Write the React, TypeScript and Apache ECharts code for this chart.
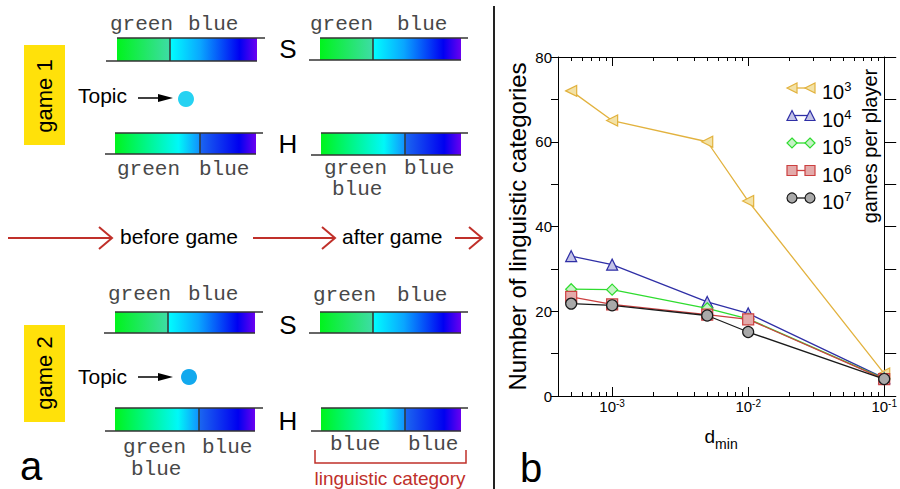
import React, { useEffect, useRef } from "react";
import * as echarts from "echarts";

// ---------------- data (panel b) ----------------
const dMinValues = [5e-4, 1e-3, 5e-3, 1e-2, 1e-1];
const gamesPerPlayerExponents = [3, 4, 5, 6, 7];
const categories1e3 = [72, 65, 60, 46, 5.3];
const categories1e4 = [33, 31, 22.2, 19.5, 4.2];
const categories1e5 = [25.2, 25.1, 20.7, 18.2, 4.1];
const categories1e6 = [23.4, 21.6, 19.2, 18.1, 4];
const categories1e7 = [21.8, 21.4, 19, 15.1, 4];
const allCategories = [categories1e3, categories1e4, categories1e5, categories1e6, categories1e7];
const xMajorTickValues = [1e-3, 1e-2, 1e-1];
const xMinorTickValues = [
  5e-4, 6e-4, 7e-4, 8e-4, 9e-4,
  2e-3, 3e-3, 4e-3, 5e-3, 6e-3, 7e-3, 8e-3, 9e-3,
  2e-2, 3e-2, 4e-2, 5e-2, 6e-2, 7e-2, 8e-2, 9e-2,
];
const yLabelValues = [0, 20, 40, 60, 80];

// ---------------- styles ----------------
const SANS = '"Liberation Sans", Arial, Helvetica, sans-serif';
const MONO = '"Liberation Mono", "Courier New", monospace';
const RED = "#c0302a";
const X_MIN = 4e-4;
const X_MAX = 0.1;

const seriesStyles = [
  { symbol: "triangle", rotate: 90, kind: "triLeft", line: "#e2b23e", fill: "#f3e2a6" },
  { symbol: "triangle", rotate: 0, kind: "triUp", line: "#2f2fa6", fill: "#c3c3e6" },
  { symbol: "diamond", rotate: 0, kind: "diamond", line: "#2fdc2f", fill: "#c6f2c6" },
  { symbol: "rect", rotate: 0, kind: "rect", line: "#cc4040", fill: "#e3aaaa" },
  { symbol: "circle", rotate: 0, kind: "circle", line: "#1a1a1a", fill: "#a9a9a9" },
];

// ---------------- helpers for the schematic (panel a) ----------------
const grad = (stops: [number, string][]) =>
  new echarts.graphic.LinearGradient(0, 0, 1, 0, stops.map(([offset, color]) => ({ offset, color })));

const S_LEFT: [number, string][] = [[0, "#00f41c"], [1, "#3edca6"]];
const S_RIGHT: [number, string][] = [[0, "#00ffff"], [0.35, "#0aa6ff"], [0.8, "#0000f2"], [1, "#6a00f0"]];
const H_FULL: [number, string][] = [[0, "#00f41c"], [0.45, "#00f8f8"], [0.6, "#1290ff"], [0.61, "#1a64f0"], [0.88, "#0000f0"], [1, "#6a00f0"]];

const line = (x1: number, y1: number, x2: number, y2: number, stroke = "#333", lineWidth = 1.5) => ({
  type: "line", silent: true, shape: { x1, y1, x2, y2 }, style: { stroke, lineWidth },
});
const rect = (x: number, y: number, width: number, height: number, fill: any) => ({
  type: "rect", silent: true, shape: { x, y, width, height }, style: { fill },
});
const text = (t: string, x: number, y: number, size: number, family: string, fill = "#000", align = "left", extra: any = {}) => ({
  type: "text", silent: true, x, y, ...extra,
  style: { text: t, fontSize: size, fontFamily: family, fill, align, textAlign: align, verticalAlign: "middle", textVerticalAlign: "middle" },
});

type Bar = { x0: number; x1: number; y0: number; y1: number; div: number; topEnd: number; botStart: number; split: boolean };
const barEls = (b: Bar) => {
  const els: any[] = [];
  const h = b.y1 - b.y0;
  if (b.split) {
    els.push(rect(b.x0, b.y0, b.div - b.x0, h, grad(S_LEFT)));
    els.push(rect(b.div, b.y0, b.x1 - b.div, h, grad(S_RIGHT)));
  } else {
    els.push(rect(b.x0, b.y0, b.x1 - b.x0, h, grad(H_FULL)));
  }
  els.push(line(b.x0, b.y0, b.topEnd, b.y0));
  els.push(line(b.botStart, b.y1, b.x1, b.y1));
  els.push(line(b.div, b.y0, b.div, b.y1));
  return els;
};

const bars: Bar[] = [
  { x0: 117, x1: 257, y0: 38, y1: 61, div: 170, topEnd: 265, botStart: 106, split: true },
  { x0: 320, x1: 461, y0: 38, y1: 60, div: 373, topEnd: 468, botStart: 309, split: true },
  { x0: 115, x1: 256, y0: 133, y1: 154, div: 200, topEnd: 263, botStart: 105, split: false },
  { x0: 321, x1: 461, y0: 133, y1: 155, div: 405, topEnd: 468, botStart: 311, split: false },
  { x0: 115, x1: 255, y0: 312, y1: 333, div: 168, topEnd: 263, botStart: 104, split: true },
  { x0: 320, x1: 461, y0: 312, y1: 333, div: 373, topEnd: 468, botStart: 309, split: true },
  { x0: 115, x1: 255, y0: 408, y1: 431, div: 199, topEnd: 263, botStart: 105, split: false },
  { x0: 321, x1: 461, y0: 408, y1: 431, div: 405, topEnd: 468, botStart: 311, split: false },
];

const monoWords: [string, number, number][] = [
  ["green", 110, 24.5], ["blue", 188, 24.5], ["green", 310, 24.5], ["blue", 397, 24.5],
  ["green", 117, 169.5], ["blue", 199, 169.5], ["green", 324, 168], ["blue", 404, 168], ["blue", 332, 189.5],
  ["green", 108, 294], ["blue", 188, 294], ["green", 313, 295], ["blue", 397, 295],
  ["green", 123, 447.5], ["blue", 202, 447.5], ["blue", 131, 469], ["blue", 330, 444], ["blue", 408, 444],
];

const games = [
  { label: "game 1", boxTop: 45, boxBottom: 145, textY: 96, sY: 48.6, hY: 143.6, topicY: 95, arrowY: 98, dotX: 186, dotY: 99, dot: "#26d2f2" },
  { label: "game 2", boxTop: 325, boxBottom: 422, textY: 373, sY: 325, hY: 420.5, topicY: 376, arrowY: 377, dotX: 189, dotY: 377, dot: "#12a9ee" },
];

const chevron = (tipX: number, y: number) => ({
  type: "polyline", silent: true,
  shape: { points: [[tipX - 13, y - 11], [tipX, y], [tipX - 13, y + 11]] },
  style: { stroke: RED, lineWidth: 2, fill: null },
});

const symbolEl = (kind: string, cx: number, cy: number, s: number, fill: string, stroke: string) => {
  const r = s / 2;
  const style = { fill, stroke, lineWidth: 1.2 };
  if (kind === "circle") return { type: "circle", silent: true, shape: { cx, cy, r }, style };
  if (kind === "rect") return { type: "rect", silent: true, shape: { x: cx - r, y: cy - r, width: s, height: s }, style };
  let points: number[][] = [];
  if (kind === "triLeft") points = [[cx - r, cy], [cx + r, cy - r], [cx + r, cy + r]];
  if (kind === "triUp") points = [[cx, cy - r], [cx + r, cy + r], [cx - r, cy + r]];
  if (kind === "diamond") points = [[cx, cy - r], [cx + r, cy], [cx, cy + r], [cx - r, cy]];
  return { type: "polygon", silent: true, shape: { points }, style };
};

function buildGraphics() {
  const els: any[] = [];
  // panel separator
  els.push(line(494, 6, 494, 489, "#222", 2));
  // bars
  bars.forEach((b) => els.push(...barEls(b)));
  // words
  monoWords.forEach(([t, x, y]) => els.push(text(t, x, y, 21, MONO, "#484848")));
  // games
  games.forEach((g) => {
    els.push(rect(24, g.boxTop, 41, g.boxBottom - g.boxTop, "#ffe10a"));
    els.push(text(g.label, 44, g.textY, 22, SANS, "#000", "center", { rotation: Math.PI / 2 }));
    els.push(text("S", 288, g.sY, 26, SANS, "#000", "center"));
    els.push(text("H", 288, g.hY, 26, SANS, "#000", "center"));
    els.push(text("Topic", 78, g.topicY, 21, SANS, "#000"));
    els.push(line(138, g.arrowY, 162, g.arrowY, "#000", 1.5));
    els.push({ type: "polygon", silent: true, shape: { points: [[158, g.arrowY - 4], [173, g.arrowY], [158, g.arrowY + 4]] }, style: { fill: "#000" } });
    els.push({ type: "circle", silent: true, shape: { cx: g.dotX, cy: g.dotY, r: 8 }, style: { fill: g.dot } });
  });
  // red timeline
  els.push(line(8, 238, 111, 238, RED, 2));
  els.push(chevron(112, 238));
  els.push(text("before game", 120, 236, 21, SANS, "#000"));
  els.push(line(253, 238, 334, 238, RED, 2));
  els.push(chevron(335, 238));
  els.push(text("after game", 342, 236, 21, SANS, "#000"));
  els.push(line(455, 238, 481, 238, RED, 2));
  els.push(chevron(482, 238));
  // linguistic category bracket
  els.push({ type: "polyline", silent: true, shape: { points: [[315, 450], [315, 463], [466, 463], [466, 450]] }, style: { stroke: RED, lineWidth: 1.5, fill: null } });
  els.push(text("linguistic category", 390, 478, 19, SANS, RED, "center"));
  // panel letters
  els.push(text("a", 20, 466, 40, SANS, "#000"));
  els.push(text("b", 520, 468, 40, SANS, "#000"));

  // legend of panel b
  const legendTop = 88;
  const legendStep = 27.5;
  gamesPerPlayerExponents.forEach((e, i) => {
    const st = seriesStyles[i];
    const y = legendTop + i * legendStep;
    els.push(line(792, y, 810, y, st.line, 1.3));
    els.push(symbolEl(st.kind, 792, y, 10, st.fill, st.line));
    els.push(symbolEl(st.kind, 810, y, 10, st.fill, st.line));
    els.push({
      type: "text", silent: true, x: 822, y: y + 3,
      style: {
        text: `{b|10}{s|${e}}`, fill: "#000", align: "left", textAlign: "left", verticalAlign: "middle", textVerticalAlign: "middle",
        rich: {
          b: { fontSize: 20, fontFamily: SANS, lineHeight: 22, verticalAlign: "bottom", fill: "#000", color: "#000" },
          s: { fontSize: 13, fontFamily: SANS, lineHeight: 4, verticalAlign: "top", fill: "#000", color: "#000" },
        },
      },
    });
  });
  els.push(text("games per player", 870, 146, 20, SANS, "#000", "center", { rotation: Math.PI / 2 }));
  return els;
}

function buildOption(): any {
  const xBase = {
    type: "log", logBase: 10, min: X_MIN, max: X_MAX, gridIndex: 0,
    splitLine: { show: false }, minorTick: { show: false }, minorSplitLine: { show: false },
  };
  const axisLineStyle = { show: true, lineStyle: { color: "#000", width: 1 } };
  const supRich = {
    b: { fontSize: 15, fontFamily: SANS, color: "#000", lineHeight: 16, verticalAlign: "bottom" },
    s: { fontSize: 10, fontFamily: SANS, color: "#000", lineHeight: 6, verticalAlign: "top" },
  };
  return {
    animation: false,
    backgroundColor: "#fff",
    textStyle: { fontFamily: SANS },
    grid: { left: 558, top: 57, right: 13, bottom: 93, containLabel: false },
    xAxis: [
      {
        ...xBase, position: "bottom",
        axisLine: axisLineStyle,
        axisTick: { show: true, inside: true, length: 9, customValues: xMajorTickValues, lineStyle: { color: "#000" } },
        axisLabel: {
          show: true, customValues: xMajorTickValues, margin: 2,
          formatter: (v: number) => `{b|10}{s|${Math.round(Math.log10(v))}}`,
          rich: supRich,
        },
        name: "{d|d}{m|min}", nameLocation: "middle", nameGap: 25,
        nameTextStyle: {
          rich: {
            d: { fontSize: 19, fontFamily: SANS, color: "#000", lineHeight: 30, verticalAlign: "middle" },
            m: { fontSize: 14, fontFamily: SANS, color: "#000", lineHeight: 10, verticalAlign: "bottom" },
          },
        },
      },
      {
        ...xBase, position: "bottom", axisLine: { show: false },
        axisTick: { show: true, inside: true, length: 4, customValues: xMinorTickValues, lineStyle: { color: "#000" } },
        axisLabel: { show: false },
      },
      {
        ...xBase, position: "top", axisLine: axisLineStyle,
        axisTick: { show: true, inside: true, length: 9, customValues: xMajorTickValues, lineStyle: { color: "#000" } },
        axisLabel: { show: false },
      },
      {
        ...xBase, position: "top", axisLine: { show: false },
        axisTick: { show: true, inside: true, length: 4, customValues: xMinorTickValues, lineStyle: { color: "#000" } },
        axisLabel: { show: false },
      },
    ],
    yAxis: [
      {
        type: "value", min: 0, max: 80, interval: 10, position: "left",
        axisLine: axisLineStyle,
        axisTick: { show: true, inside: false, length: 7, lineStyle: { color: "#000" } },
        axisLabel: {
          show: true, margin: 6, fontSize: 15, color: "#000", fontFamily: SANS,
          formatter: (v: number) => (yLabelValues.includes(v) ? String(v) : ""),
        },
        splitLine: { show: false },
        name: "Number of linguistic categories", nameLocation: "middle", nameGap: 29,
        nameTextStyle: { fontSize: 24, color: "#000", fontFamily: SANS },
      },
      {
        type: "value", min: 0, max: 80, interval: 10, position: "right",
        axisLine: axisLineStyle,
        axisTick: { show: true, inside: false, length: 12, lineStyle: { color: "#000" } },
        axisLabel: { show: false },
        splitLine: { show: false },
      },
    ],
    series: allCategories.map((vals, i) => {
      const st = seriesStyles[i];
      return {
        type: "line",
        name: `10^${gamesPerPlayerExponents[i]}`,
        xAxisIndex: 0, yAxisIndex: 0,
        data: dMinValues.map((x, j) => [x, vals[j]]),
        symbol: st.symbol, symbolRotate: st.rotate, symbolSize: 11,
        showAllSymbol: true,
        lineStyle: { color: st.line, width: 1.3 },
        itemStyle: { color: st.fill, borderColor: st.line, borderWidth: 1.2 },
        z: 2 + i,
        clip: false,
      };
    }),
    graphic: buildGraphics(),
  };
}

export default function App() {
  const ref = useRef<HTMLDivElement>(null);
  useEffect(() => {
    if (!ref.current) return;
    const chart = echarts.init(ref.current, null, { renderer: "svg" });
    chart.setOption(buildOption());
    return () => chart.dispose();
  }, []);
  return (
    <div
      ref={ref}
      style={{ position: "fixed", left: 0, top: 0, width: 900, height: 489, background: "#fff" }}
    />
  );
}
